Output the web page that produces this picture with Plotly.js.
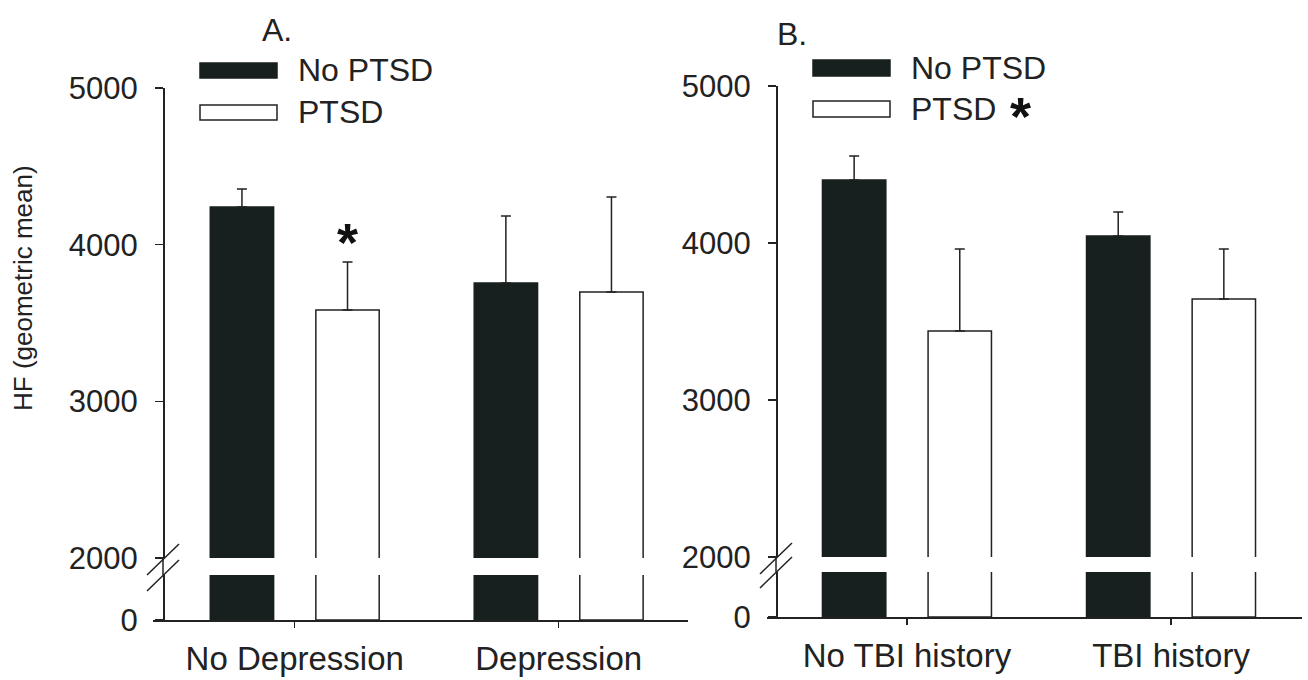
<!DOCTYPE html>
<html><head><meta charset="utf-8">
<script src="https://cdn.plot.ly/plotly-3.0.1.min.js"></script>
<style>html,body{margin:0;padding:0;background:#fff}#chart{width:1308px;height:680px}</style>
</head><body><div id="chart"></div>
<script>
// ---- data ----
const seriesNames = ['No PTSD', 'PTSD'];
const catsA = ['No Depression', 'Depression'];
const noPtsdA = [4240, 3755];
const noPtsdErrA = [115, 428];
const ptsdA = [3583, 3698];
const ptsdErrA = [306, 606];
const catsB = ['No TBI history', 'TBI history'];
const noPtsdB = [4401, 4045];
const noPtsdErrB = [153, 152];
const ptsdB = [3439, 3643];
const ptsdErrB = [523, 319];
const upperTicks = [2000, 3000, 4000, 5000];
const lowerTicks = [0];
const panelLabels = ['A.', 'B.'];
const yTitle = 'HF (geometric mean)';
const sigMark = '*';

// ---- style / geometry ----
const W = 1308, H = 680;
const px = x => x / W;
const py = y => 1 - y / H;
const FONT = 'Liberation Sans, Arial, Helvetica, sans-serif';
const INK = '#222';
const DARK = '#18201f';

const panels = [
  {xa: 'x', ya: 'y', ya2: 'y2', xName: 'xaxis', yName: 'yaxis', y2Name: 'yaxis2',
   xl: 153, xr: 688, axX: 163, top: 88, upBot: 558, lowTop: 575, bot: 620,
   range: [-0.537, 1.49], cats: catsA,
   vals: [noPtsdA, ptsdA], errs: [noPtsdErrA, ptsdErrA]},
  {xa: 'x2', ya: 'y3', ya2: 'y4', xName: 'xaxis2', yName: 'yaxis3', y2Name: 'yaxis4',
   xl: 767, xr: 1302, axX: 776, top: 86, upBot: 557, lowTop: 572, bot: 617,
   range: [-0.53, 1.496], cats: catsB,
   vals: [noPtsdB, ptsdB], errs: [noPtsdErrB, ptsdErrB]}
];

const fills = [DARK, '#ffffff'];
const lines = [DARK, INK];

const traces = [];
const layout = {
  width: W, height: H,
  margin: {l: 0, r: 0, t: 0, b: 0},
  paper_bgcolor: '#fff', plot_bgcolor: 'rgba(0,0,0,0)',
  showlegend: false,
  barmode: 'group', bargap: 0.2, bargroupgap: 0.4,
  font: {family: FONT, color: INK},
  shapes: [], annotations: []
};

panels.forEach((p, pi) => {
  for (let s = 0; s < 2; s++) {
    // upper segment
    traces.push({
      type: 'bar', x: p.cats, y: p.vals[s], name: seriesNames[s],
      xaxis: p.xa, yaxis: p.ya,
      marker: {color: fills[s], line: {color: lines[s], width: 1.5}},
      error_y: {type: 'data', symmetric: false, array: p.errs[s],
                arrayminus: p.errs[s].map(() => 0),
                color: INK, thickness: 1.5, width: 5},
      hoverinfo: 'skip'
    });
    // lower segment (below the break)
    traces.push({
      type: 'bar', x: p.cats, y: p.vals[s], name: seriesNames[s],
      xaxis: p.xa, yaxis: p.ya2,
      marker: {color: fills[s], line: {color: lines[s], width: 1.5}},
      hoverinfo: 'skip'
    });
  }
  const axPos = px(p.axX);
  layout[p.xName] = {
    domain: [px(p.xl), px(p.xr)], anchor: p.ya2, range: p.range,
    type: 'category', showline: true, linecolor: INK, linewidth: 1.5,
    ticks: 'outside', ticklen: 6, tickwidth: 1.2, tickcolor: INK,
    tickfont: {family: FONT, size: 33, color: INK}, ticklabelstandoff: 3,
    showgrid: false, zeroline: false, fixedrange: true
  };
  const yCommon = {
    anchor: 'free', position: axPos, showline: true, linecolor: INK, linewidth: 1.5,
    ticks: 'outside', ticklen: 8, tickwidth: 1.2, tickcolor: INK,
    tickfont: {family: FONT, size: 31, color: INK}, ticklabelstandoff: 11,
    showgrid: false, zeroline: false, fixedrange: true
  };
  layout[p.yName] = Object.assign({}, yCommon, {
    domain: [py(p.upBot), py(p.top)], range: [upperTicks[0], upperTicks[upperTicks.length - 1]],
    tickmode: 'array', tickvals: upperTicks
  });
  layout[p.y2Name] = Object.assign({}, yCommon, {
    domain: [py(p.bot), py(p.lowTop)], range: [0, 500],
    tickmode: 'array', tickvals: lowerTicks
  });

  // axis line through the break, and the // marks
  layout.shapes.push({type: 'line', xref: 'paper', yref: 'paper',
    x0: axPos, x1: axPos, y0: py(p.upBot), y1: py(p.lowTop),
    line: {color: INK, width: 1.5}});
  [p.upBot + 1.5, p.lowTop + 0.5].forEach(yc => {
    layout.shapes.push({type: 'line', xref: 'paper', yref: 'paper',
      x0: px(p.axX - 16), y0: py(yc + 15.5), x1: px(p.axX + 16), y1: py(yc - 15.5),
      line: {color: INK, width: 1.5}});
  });
});

// legends (drawn as swatches + text)
const legends = [
  {x0: 200, x1: 277, ys: [[63, 78], [105, 120]], tx: 296},
  {x0: 813, x1: 890, ys: [[60, 76], [101, 117]], tx: 909}
];
legends.forEach((lg, li) => {
  lg.ys.forEach((yy, s) => {
    layout.shapes.push({type: 'rect', xref: 'paper', yref: 'paper',
      x0: px(lg.x0), x1: px(lg.x1), y0: py(yy[1]), y1: py(yy[0]),
      fillcolor: fills[s], line: {color: lines[s], width: 1.5}});
    layout.annotations.push({xref: 'paper', yref: 'paper', x: px(lg.tx), y: py((yy[0] + yy[1]) / 2),
      xanchor: 'left', yanchor: 'middle', showarrow: false, text: seriesNames[s],
      font: {family: FONT, size: 32, color: INK}});
  });
});
// significance star next to PTSD legend in panel B
layout.annotations.push({xref: 'paper', yref: 'paper', x: px(1020), y: py(116),
  xanchor: 'center', yanchor: 'middle', showarrow: false, text: '<b>' + sigMark + '</b>',
  font: {family: FONT, size: 54, color: '#111'}});
// significance star over PTSD bar, No Depression
layout.annotations.push({xref: 'x', yref: 'y', x: catsA[0], y: ptsdA[0] + ptsdErrA[0],
  xshift: 53, yshift: -12, xanchor: 'center', yanchor: 'bottom', showarrow: false,
  text: '<b>' + sigMark + '</b>', font: {family: FONT, size: 54, color: '#111'}});

// panel labels
layout.annotations.push({xref: 'paper', yref: 'paper', x: px(277), y: py(30),
  xanchor: 'center', yanchor: 'middle', showarrow: false, text: panelLabels[0],
  font: {family: FONT, size: 32, color: INK}});
layout.annotations.push({xref: 'paper', yref: 'paper', x: px(792), y: py(34),
  xanchor: 'center', yanchor: 'middle', showarrow: false, text: panelLabels[1],
  font: {family: FONT, size: 32, color: INK}});
// y title
layout.annotations.push({xref: 'paper', yref: 'paper', x: px(23), y: py(288),
  xanchor: 'center', yanchor: 'middle', showarrow: false, text: yTitle, textangle: -90,
  font: {family: FONT, size: 26, color: INK}});

Plotly.newPlot('chart', traces, layout, {displayModeBar: false, staticPlot: true});
</script></body></html>
